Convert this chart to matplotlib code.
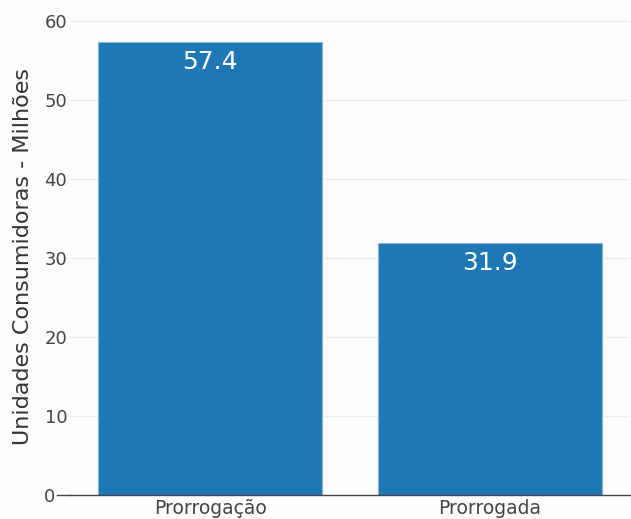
import matplotlib.pyplot as plt
import numpy as np

# data
categorias = ['Prorrogação', 'Prorrogada']
valores = [57.4, 31.9]
yticks = [0, 10, 20, 30, 40, 50, 60]

plt.rcParams['font.family'] = ['DejaVu Sans']

fig = plt.figure(figsize=(6.31, 5.19), dpi=100)
fig.patch.set_facecolor('#fdfdfd')
ax = fig.add_axes([70 / 631, 24 / 519, 560 / 631, 477.3 / 519])
ax.set_facecolor('none')

x = np.arange(len(categorias))
bars = ax.bar(x, valores, width=0.8, color='#1f77b4', edgecolor='#8db3d6', linewidth=0.8, zorder=3)

for b, v in zip(bars, valores):
    ax.annotate(f'{v}', (b.get_x() + b.get_width() / 2, v), xytext=(0, -6),
                textcoords='offset points', ha='center', va='top',
                color='white', fontsize=18, zorder=4)

ax.set_xlim(-0.5, 1.5)
ax.set_ylim(0, 60.42)
ax.set_xticks(x)
ax.set_xticklabels(categorias, fontsize=13.5, color='#444444')
ax.set_yticks(yticks)
ax.set_yticklabels([str(t) for t in yticks], fontsize=13, color='#444444')
ax.tick_params(axis='both', length=0)
ax.tick_params(axis='x', pad=3)
ax.tick_params(axis='y', pad=2)

# the zero label sits left of a short dash
ax.yaxis.get_major_ticks()[0].set_pad(11)
ax.plot([-0.023, 0], [0, 0], transform=ax.get_yaxis_transform(), color='#444444',
        linewidth=1, clip_on=False, zorder=5)

ax.grid(axis='y', color='#ececec', linewidth=1, zorder=0)
for s in ['top', 'right', 'left']:
    ax.spines[s].set_visible(False)
ax.spines['bottom'].set_color('#444444')
ax.spines['bottom'].set_linewidth(1)
ax.spines['bottom'].set_zorder(5)

ax.set_ylabel('Unidades Consumidoras - Milhões', fontsize=16, color='#333333', labelpad=7.5)

plt.savefig('out.png', dpi=100)
